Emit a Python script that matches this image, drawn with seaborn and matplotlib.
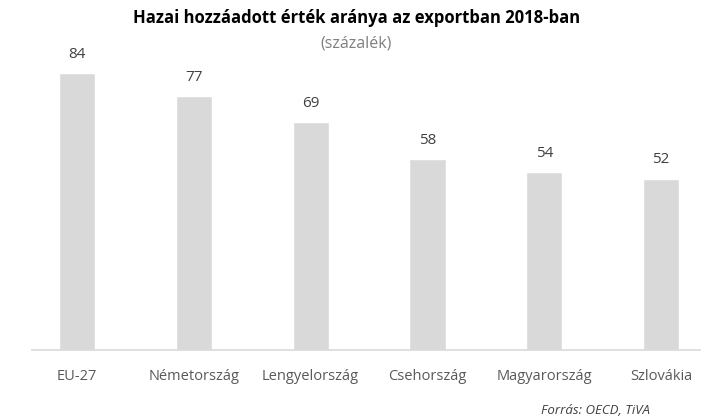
import pandas as pd
import matplotlib.pyplot as plt
import seaborn as sns

# --- DATA ---
countries = ['EU-27', 'Németország', 'Lengyelország', 'Csehország', 'Magyarország', 'Szlovákia']
shares = [84, 77, 69, 58, 54, 52]

title = 'Hazai hozzáadott érték aránya az exportban 2018-ban'
subtitle = '(százalék)'
source = 'Forrás: OECD, TiVA'

df = pd.DataFrame({'country': countries, 'share': shares})

# --- STYLE ---
sns.set_theme(style='white')
plt.rcParams['font.family'] = ['Open Sans', 'DejaVu Sans']

fig = plt.figure(figsize=(7.13, 4.2), dpi=100)
ax = fig.add_axes([32 / 713, 70 / 420, 668 / 713, 310 / 420])

sns.barplot(data=df, x='country', y='share', color='#d9d9d9', width=0.31,
            saturation=1, ax=ax)

ax.set_xlim(-0.385, 5.333)
ax.set_ylim(0, 94)

# value labels above bars
for container in ax.containers:
    ax.bar_label(container, labels=[str(v) for v in shares], padding=8,
                 fontsize=11, color='#404040')

for side in ['top', 'right', 'left']:
    ax.spines[side].set_visible(False)
ax.spines['bottom'].set_color('#d9d9d9')
ax.spines['bottom'].set_linewidth(1.2)

ax.set_yticks([])
ax.set_xlabel('')
ax.set_ylabel('')
ax.tick_params(axis='x', length=0, pad=14, labelsize=10.5, labelcolor='#595959')

fig.text(0.5, 1 - 18 / 420, title, ha='center', va='center',
         fontsize=12, fontweight='bold', color='black')
fig.text(0.5, 1 - 44 / 420, subtitle, ha='center', va='center',
         fontsize=11.5, color='#7f7f7f')
fig.text(650 / 713, 1 - 411 / 420, source, ha='right', va='center',
         fontsize=9.5, style='italic', color='#404040')

fig.savefig('out.png', dpi=100)
